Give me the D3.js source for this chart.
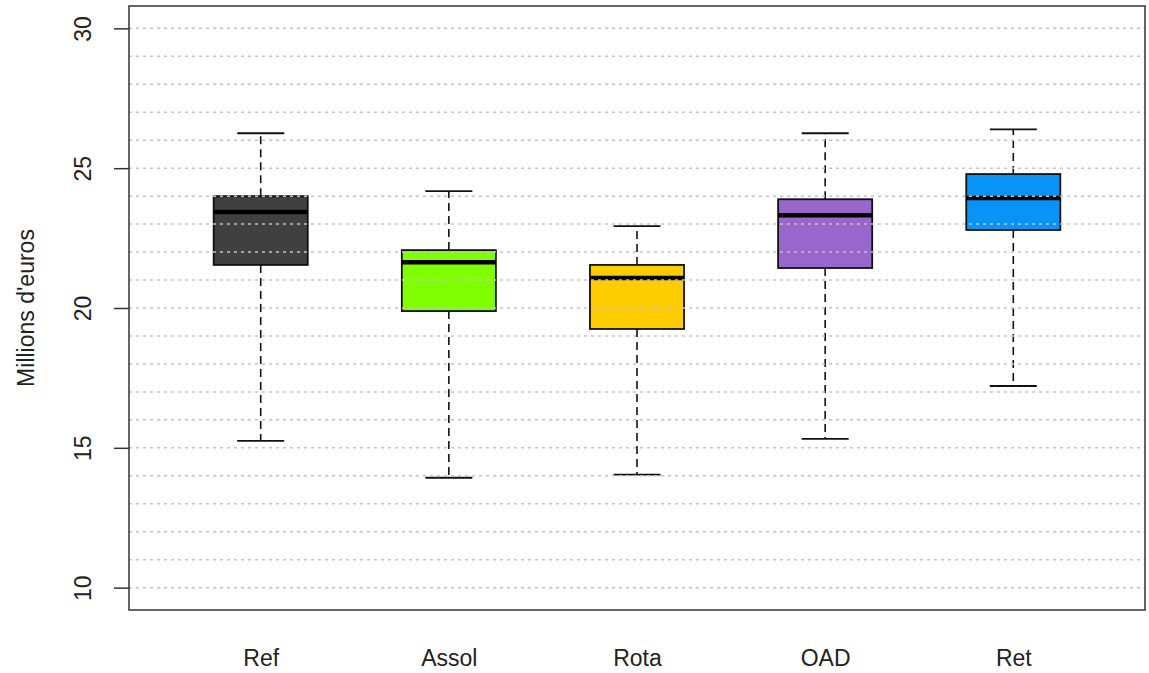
<!DOCTYPE html>
<html>
<head>
<meta charset="utf-8">
<script src="https://cdn.jsdelivr.net/npm/d3@7"></script>
<style>
  body { margin: 0; background: #fff; }
  text { font-family: Arial, "Liberation Sans", sans-serif; fill: #222; }
</style>
</head>
<body>
<div id="chart"></div>
<script>
var width = 1149;
var height = 673;

// data
var categories = ["Ref", "Assol", "Rota", "OAD", "Ret"];
var lowerWhisker = [15.25, 13.93, 14.04, 15.32, 17.21];
var q1 = [21.54, 19.89, 19.25, 21.43, 22.79];
var median = [23.43, 21.64, 21.07, 23.32, 23.93];
var q3 = [24.0, 22.07, 21.54, 23.89, 24.79];
var upperWhisker = [26.25, 24.18, 22.93, 26.25, 26.39];
var boxColors = ["#404040", "#7fff00", "#ffcc00", "#9966cc", "#0a93f7"];
var yTicks = [10, 15, 20, 25, 30];
var gridValues = d3.range(10, 31);

var plot = { left: 129, right: 1145, top: 6, bottom: 610 };
var fontSize = "23px";

var svg = d3.select("#chart")
    .append("svg")
    .attr("width", width)
    .attr("height", height)

var x = d3.scaleLinear()
    .domain([0.3, categories.length + 0.7])
    .range([plot.left, plot.right]);

var y = d3.scaleLinear()
    .domain([9.2, 30.8])
    .range([plot.bottom, plot.top]);

var boxW = 0.5 * (x(1) - x(0));   // box width
var capW = boxW / 2;

var data = categories.map(function(c, i) {
    return { name: c, i: i + 1, lo: lowerWhisker[i], q1: q1[i], med: median[i],
             q3: q3[i], hi: upperWhisker[i], color: boxColors[i] };
});

var g = svg.append("g");

var box = g.selectAll(".box")
    .data(data)
    .enter()
    .append("g")
    .attr("class", "box");

// whiskers (dashed)
box.append("line")
    .attr("x1", function(d) { return x(d.i); })
    .attr("x2", function(d) { return x(d.i); })
    .attr("y1", function(d) { return y(d.q3); })
    .attr("y2", function(d) { return y(d.hi); })
    .attr("stroke", "#111").attr("stroke-width", 1.6)
    .attr("stroke-dasharray", "8,5");
box.append("line")
    .attr("x1", function(d) { return x(d.i); })
    .attr("x2", function(d) { return x(d.i); })
    .attr("y1", function(d) { return y(d.q1); })
    .attr("y2", function(d) { return y(d.lo); })
    .attr("stroke", "#111").attr("stroke-width", 1.6)
    .attr("stroke-dasharray", "8,5");

// caps
["lo", "hi"].forEach(function(k) {
    box.append("line")
        .attr("x1", function(d) { return x(d.i) - capW / 2; })
        .attr("x2", function(d) { return x(d.i) + capW / 2; })
        .attr("y1", function(d) { return y(d[k]); })
        .attr("y2", function(d) { return y(d[k]); })
        .attr("stroke", "#111").attr("stroke-width", 1.8);
});

// the boxes
box.append("rect")
    .attr("x", function(d) { return x(d.i) - boxW / 2; })
    .attr("width", boxW)
    .attr("y", function(d) { return y(d.q3); })
    .attr("height", function(d) { return y(d.q1) - y(d.q3); })
    .attr("fill", function(d) { return d.color; })
    .attr("stroke", "#111")
    .attr("stroke-width", 1.8);

// medians
box.append("line")
    .attr("x1", function(d) { return x(d.i) - boxW / 2; })
    .attr("x2", function(d) { return x(d.i) + boxW / 2; })
    .attr("y1", function(d) { return y(d.med); })
    .attr("y2", function(d) { return y(d.med); })
    .attr("stroke", "#000").attr("stroke-width", 4.5);

// grid on top, like abline() after boxplot
g.append("g")
    .selectAll("line")
    .data(gridValues)
    .enter()
    .append("line")
    .attr("x1", plot.left)
    .attr("x2", plot.right)
    .attr("y1", function(d) { return y(d); })
    .attr("y2", function(d) { return y(d); })
    .attr("stroke", "#c4c4c4")
    .attr("stroke-width", 1.5)
    .attr("stroke-dasharray", "3,4");

// frame
svg.append("rect")
    .attr("x", plot.left).attr("y", plot.top)
    .attr("width", plot.right - plot.left)
    .attr("height", plot.bottom - plot.top)
    .attr("fill", "none")
    .attr("stroke", "#333")
    .attr("stroke-width", 1.5);

// y axis
var yAxis = svg.append("g")
    .attr("transform", "translate(" + plot.left + ",0)")
    .call(d3.axisLeft(y).tickValues(yTicks).tickSize(15).tickPadding(0).tickFormat(d3.format("d")));
yAxis.select(".domain").remove();
yAxis.selectAll(".tick line").attr("stroke", "#333").attr("stroke-width", 1.5);
yAxis.selectAll(".tick text")
    .attr("x", 0).attr("dy", null)
    .attr("transform", "translate(-46,0) rotate(-90)")
    .attr("text-anchor", "middle")
    .attr("dominant-baseline", "central")
    .style("font-size", fontSize)
    .style("font-family", "Arial, 'Liberation Sans', sans-serif")
    .attr("fill", "#222");

// x labels
var xAxis = svg.append("g")
    .attr("transform", "translate(0," + plot.bottom + ")")
    .call(d3.axisBottom(x).tickValues(d3.range(1, categories.length + 1)).tickSize(0)
        .tickFormat(function(d) { return categories[d - 1]; }));
xAxis.select(".domain").remove();
xAxis.selectAll(".tick text")
    .attr("y", 48).attr("dy", "0.35em")
    .style("font-size", fontSize)
    .style("font-family", "Arial, 'Liberation Sans', sans-serif")
    .attr("fill", "#222");

// y title
svg.append("text")
    .attr("transform", "translate(26," + ((plot.top + plot.bottom) / 2) + ") rotate(-90)")
    .attr("text-anchor", "middle")
    .attr("dominant-baseline", "central")
    .style("font-size", fontSize)
    .text("Millions d'euros");
</script>
</body>
</html>
